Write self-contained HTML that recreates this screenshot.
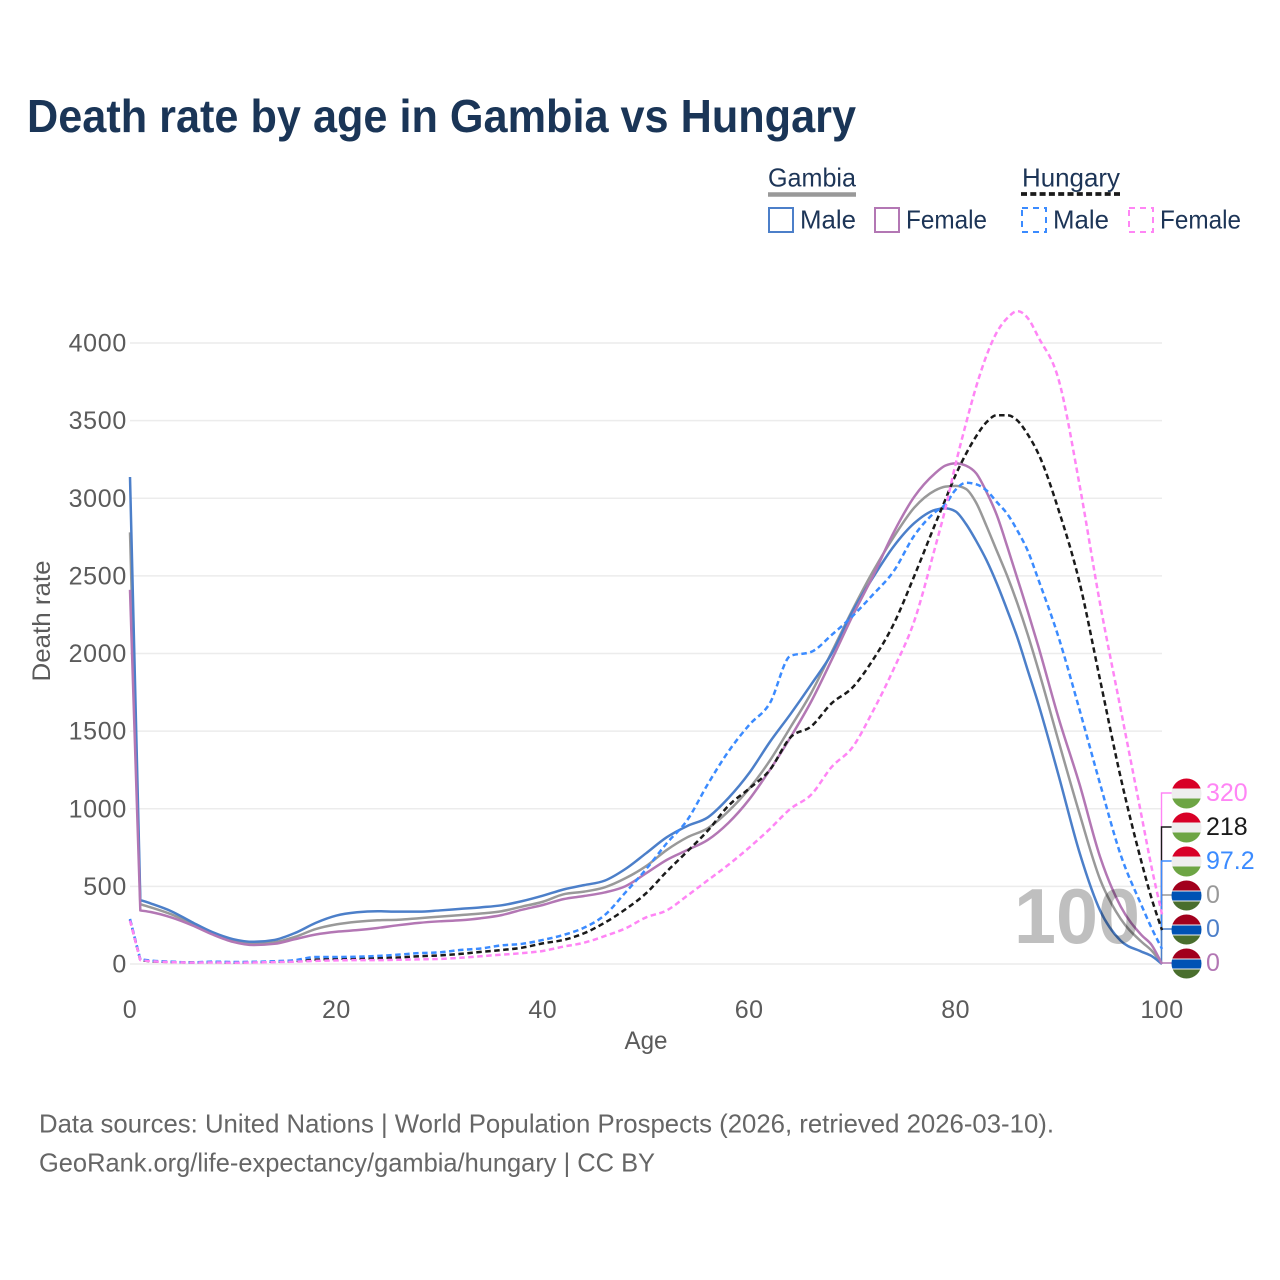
<!DOCTYPE html>
<html lang="en">
<head>
<meta charset="utf-8">
<title>Death rate by age in Gambia vs Hungary</title>
<style>
html,body{margin:0;padding:0;background:#fff;}
svg{display:block;}
text{font-family:"Liberation Sans",sans-serif;}
</style>
</head>
<body>
<svg id="chart" xmlns="http://www.w3.org/2000/svg" width="1280" height="1280" viewBox="0 0 1280 1280">
  <rect x="0" y="0" width="1280" height="1280" fill="#ffffff"/>
  <text x="27" y="132" font-size="46" font-weight="700" fill="#1a3557" textLength="829" lengthAdjust="spacingAndGlyphs">Death rate by age in Gambia vs Hungary</text>

  <g>
    <text x="768" y="186.5" font-size="26" fill="#1d3557" textLength="88" lengthAdjust="spacingAndGlyphs">Gambia</text>
    <line x1="768" y1="194.5" x2="856" y2="194.5" stroke="#999999" stroke-width="4.5"/>
    <text x="1022" y="186.5" font-size="26" fill="#1d3557" textLength="98" lengthAdjust="spacingAndGlyphs">Hungary</text>
    <line x1="1021" y1="194" x2="1120" y2="194" stroke="#1a1a1a" stroke-width="3.8" stroke-dasharray="6 3.3"/>

    <rect x="769" y="208" width="24" height="24" fill="none" stroke="#4c7fc9" stroke-width="2"/>
    <text x="800" y="228.5" font-size="26" fill="#1d3557" textLength="56" lengthAdjust="spacingAndGlyphs">Male</text>
    <rect x="875" y="208" width="24" height="24" fill="none" stroke="#b377b4" stroke-width="2"/>
    <text x="906" y="228.5" font-size="26" fill="#1d3557" textLength="81" lengthAdjust="spacingAndGlyphs">Female</text>
    <rect x="1022" y="208" width="24" height="24" fill="none" stroke="#3b8bff" stroke-width="2" stroke-dasharray="6 5"/>
    <text x="1053" y="228.5" font-size="26" fill="#1d3557" textLength="56" lengthAdjust="spacingAndGlyphs">Male</text>
    <rect x="1129" y="208" width="24" height="24" fill="none" stroke="#ff85f5" stroke-width="2" stroke-dasharray="6 5"/>
    <text x="1160" y="228.5" font-size="26" fill="#1d3557" textLength="81" lengthAdjust="spacingAndGlyphs">Female</text>
  </g>

  <g id="grid"></g>
  <g id="yticks"></g>
  <g id="xticks"></g>
  <g id="connectors"></g>
  <g id="lines"></g>
  <g id="endlabels"></g>

  <text id="watermark" x="1077" y="943" font-size="78" font-weight="700" text-anchor="middle" fill="#000000" fill-opacity="0.25" textLength="126" lengthAdjust="spacingAndGlyphs">100</text>

  <text x="646" y="1049" font-size="25" fill="#5b5b5b" text-anchor="middle" textLength="43" lengthAdjust="spacingAndGlyphs">Age</text>
  <text transform="translate(50 621) rotate(-90)" font-size="25" fill="#5b5b5b" text-anchor="middle" textLength="121" lengthAdjust="spacingAndGlyphs">Death rate</text>

  <text x="39" y="1132.5" font-size="26" fill="#666666" textLength="1015" lengthAdjust="spacingAndGlyphs">Data sources: United Nations | World Population Prospects (2026, retrieved 2026-03-10).</text>
  <text x="39" y="1171.5" font-size="26" fill="#666666" textLength="616" lengthAdjust="spacingAndGlyphs">GeoRank.org/life-expectancy/gambia/hungary | CC BY</text>
</svg>

<script>
const ages = [0,1,2,4,6,8,10,12,14,16,18,20,22,24,26,28,30,32,34,36,38,40,42,44,46,48,50,52,54,56,58,60,62,64,66,68,70,72,74,76,78,79,80,81,82,83,84,85,86,87,88,90,92,94,96,98,99,100];
const gambiaMale = [3137,412,390,340,270,205,160,143,155,200,265,312,333,340,337,337,345,355,365,378,405,440,480,508,537,612,713,816,889,945,1070,1230,1430,1610,1800,2000,2270,2490,2690,2840,2925,2935,2915,2835,2725,2600,2450,2280,2100,1890,1680,1210,720,345,150,80,51,0];
const gambiaTotal = [2780,385,365,320,260,195,150,132,140,175,225,255,272,282,285,295,305,315,325,340,370,401,449,466,494,552,630,734,816,875,985,1130,1310,1525,1745,2010,2280,2530,2750,2940,3050,3075,3080,3060,2970,2820,2660,2500,2320,2120,1900,1430,970,545,290,144,86,0];
const gambiaFemale = [2410,345,335,300,250,190,142,122,130,160,190,208,218,232,250,265,275,282,295,315,350,380,418,438,461,501,584,670,734,800,910,1060,1250,1460,1690,1960,2240,2500,2780,3010,3160,3210,3225,3210,3160,3040,2890,2690,2480,2270,2050,1580,1160,690,370,187,122,0];
const hungaryMale = [290,30,22,15,10,15,13,14,18,25,45,45,47,52,60,70,75,90,100,120,130,155,187,234,315,460,610,777,927,1160,1370,1540,1680,1985,2010,2120,2240,2380,2530,2760,2910,2960,3055,3100,3090,3050,2975,2900,2790,2660,2480,2100,1640,1160,702,380,230,97.2];
const hungaryTotal = [285,25,18,13,10,12,10,12,15,20,28,33,35,38,42,50,55,65,78,90,105,133,155,198,266,352,455,595,725,860,1020,1130,1250,1460,1530,1680,1780,1960,2190,2500,2830,2990,3150,3285,3400,3490,3535,3535,3500,3410,3290,2920,2460,1830,1200,660,420,218];
const hungaryFemale = [280,25,18,12,9,10,8,10,12,15,20,23,25,25,27,30,33,40,50,60,70,84,112,137,180,229,300,345,440,540,640,750,870,1000,1090,1270,1395,1630,1900,2210,2680,2930,3220,3480,3720,3920,4070,4160,4205,4160,4040,3760,3090,2320,1640,960,620,320];
const yTickLabels = [0,500,1000,1500,2000,2500,3000,3500,4000];
const xTickLabels = [0,20,40,60,80,100];

const NS = 'http://www.w3.org/2000/svg';
const x = a => 130 + a * 10.32;
const y = v => 964 - v * 0.15525;
const make = (tag, parent, attrs) => {
  const el = document.createElementNS(NS, tag);
  for (const k in attrs) el.setAttribute(k, attrs[k]);
  parent.appendChild(el);
  return el;
};
const curvePath = (xs, ys) => {
  const n = xs.length;
  const m = [];
  for (let i = 0; i < n - 1; i++) m.push((ys[i + 1] - ys[i]) / (xs[i + 1] - xs[i]));
  const t = new Array(n).fill(0);
  t[1] = m[1];
  t[n - 1] = m[n - 2];
  for (let i = 2; i < n - 1; i++) {
    const h0 = xs[i] - xs[i - 1];
    const h1 = xs[i + 1] - xs[i];
    const p = (m[i - 1] * h1 + m[i] * h0) / (h0 + h1);
    t[i] = (Math.sign(m[i - 1]) + Math.sign(m[i])) * Math.min(Math.abs(m[i - 1]), Math.abs(m[i]), 0.5 * Math.abs(p));
  }
  let d = 'M' + xs[0].toFixed(2) + ' ' + ys[0].toFixed(2) + 'L' + xs[1].toFixed(2) + ' ' + ys[1].toFixed(2);
  for (let i = 1; i < n - 1; i++) {
    const h = (xs[i + 1] - xs[i]) / 3;
    d += 'C' + (xs[i] + h).toFixed(2) + ' ' + (ys[i] + t[i] * h).toFixed(2) + ' ' +
         (xs[i + 1] - h).toFixed(2) + ' ' + (ys[i + 1] - t[i + 1] * h).toFixed(2) + ' ' +
         xs[i + 1].toFixed(2) + ' ' + ys[i + 1].toFixed(2);
  }
  return d;
};
const gridG = document.getElementById('grid');
const yG = document.getElementById('yticks');
const xG = document.getElementById('xticks');
const connG = document.getElementById('connectors');
const linesG = document.getElementById('lines');
const labelG = document.getElementById('endlabels');
const svgRoot = document.getElementById('chart');

yTickLabels.forEach(t => {
  const line = make('line', gridG, {x1: 130, x2: 1162, y1: y(t), y2: y(t), stroke: '#ececec', 'stroke-width': 1.6});
  
  
  const label = make('text', yG, {x: 127, y: y(t) + 8.5, 'text-anchor': 'end', 'font-size': 25, 'letter-spacing': 0.7, fill: '#5b5b5b'});
  label.textContent = String(t);
  
  
});

xTickLabels.forEach(t => {
  const label = make('text', xG, {x: x(t), y: 1018, 'text-anchor': 'middle', 'font-size': 25, 'letter-spacing': 0.5, fill: '#5b5b5b'});
  label.textContent = String(t);
  
  
});

const drawOrder = [
  {key: 'gambia-total', values: gambiaTotal, color: '#999999', dash: null, country: 'gambia'},
  {key: 'gambia-male', values: gambiaMale, color: '#4c7fc9', dash: null, country: 'gambia'},
  {key: 'gambia-female', values: gambiaFemale, color: '#b377b4', dash: null, country: 'gambia'},
  {key: 'hungary-total', values: hungaryTotal, color: '#1a1a1a', dash: '5.5 3.5', country: 'hungary'},
  {key: 'hungary-male', values: hungaryMale, color: '#3b8bff', dash: '5.5 3.5', country: 'hungary'},
  {key: 'hungary-female', values: hungaryFemale, color: '#ff85f5', dash: '5.5 3.5', country: 'hungary'}
];

drawOrder.forEach(s => {
  const d = curvePath(ages.map(x), s.values.map(y));
  const attrs = {d: d, fill: 'none', stroke: s.color, 'stroke-width': 2.5, 'stroke-linejoin': 'round'};
  if (s.dash) attrs['stroke-dasharray'] = s.dash;
  const pl = make('path', linesG, attrs);
  
  
});

const stackOrder = [
  drawOrder[5], drawOrder[3], drawOrder[4], drawOrder[0], drawOrder[1], drawOrder[2]
].map((s, i) => ({s, i})).sort((a, b) => {
  const d = b.s.values[b.s.values.length - 1] - a.s.values[a.s.values.length - 1];
  return d !== 0 ? d : a.i - b.i;
}).map(o => o.s);

const defs = make('defs', svgRoot, {});
stackOrder.forEach((s, i) => {
  const ly = 963 - 34 * (stackOrder.length - 1 - i);
  const last = s.values[s.values.length - 1];
  const endX = x(ages[ages.length - 1]) - 0.5;

  const conn = make('polyline', connG, {points: endX + ',' + y(last) + ' ' + endX + ',' + ly + ' 1172,' + ly, fill: 'none', stroke: s.color, 'stroke-width': 1.4});
  
  
  if (s.key === 'gambia-total') connG.insertBefore(conn, connG.firstChild);

  const cid = 'flag-clip-' + i;
  const clip = make('clipPath', defs, {id: cid});
  make('circle', clip, {cx: 1186.5, cy: ly + 0.5, r: 15});
  const flag = make('g', labelG, {'clip-path': 'url(#' + cid + ')'});
  
  
  const band = (from, to, color) => make('rect', flag, {x: 1171, y: ly + 0.5 + from, width: 31, height: to - from, fill: color});
  if (s.country === 'hungary') {
    band(-15, -5, '#d80027');
    band(-5, 5, '#eeeeee');
    band(5, 15, '#6da544');
  } else {
    band(-15, -5, '#a2001d');
    band(-5, -4, '#eeeeee');
    band(-4, 5, '#0052b4');
    band(5, 6, '#eeeeee');
    band(6, 15, '#496e2d');
  }

  const label = make('text', labelG, {x: 1206, y: ly + 8, 'font-size': 25, fill: s.color});
  label.textContent = String(last);
  
  
});
</script>
</body>
</html>
